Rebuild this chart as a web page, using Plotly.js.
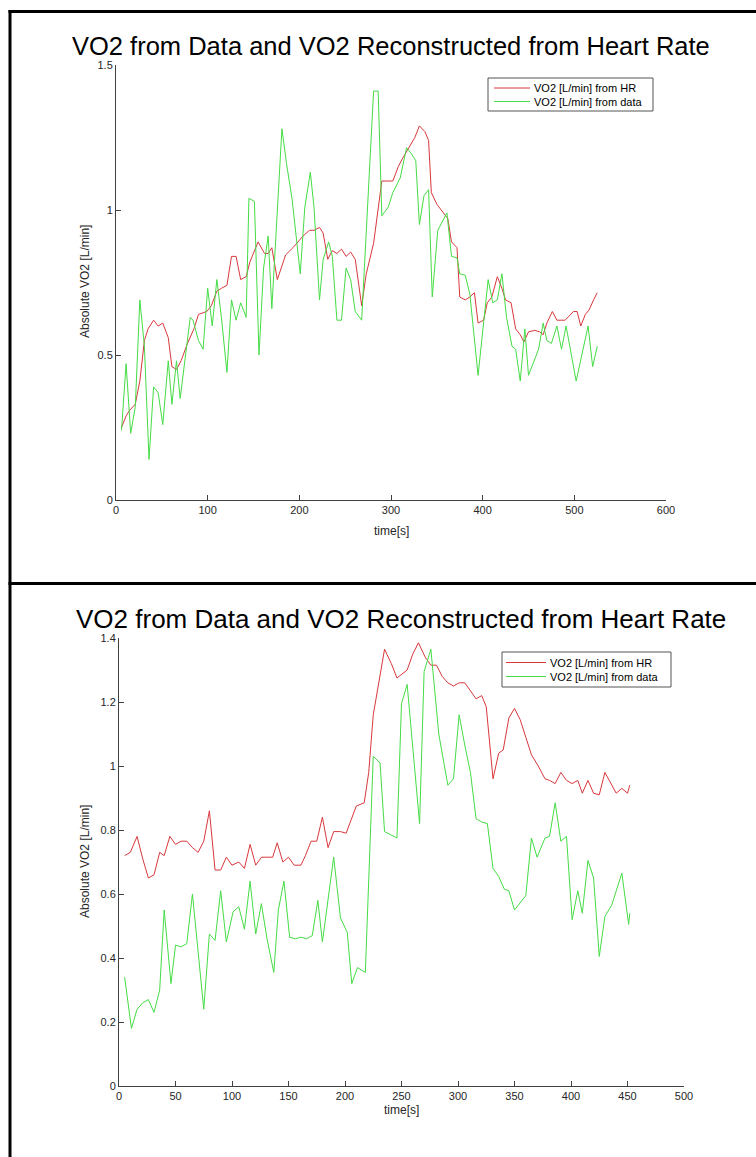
<!DOCTYPE html>
<html>
<head>
<meta charset="utf-8">
<script src="https://cdn.plot.ly/plotly-3.0.1.min.js"></script>
<style>
html,body{margin:0;padding:0;background:#fff;}
#chart{width:756px;height:1157px;}
</style>
</head>
<body>
<div id="chart"></div>
<script>
// ---------- DATA ----------
const chartTitle = "VO2 from Data and VO2 Reconstructed from Heart Rate";
const seriesNameHR = "VO2 [L/min] from HR";
const seriesNameData = "VO2 [L/min] from data";
const yAxisLabel = "Absolute VO2 [L/min]";
const xAxisLabel = "time[s]";

// Top panel
const topTimeHR = [6,11,15,21,26,31,35,41,46,51,57,61,66,71,78,85,90,99,104,110,115,121,126,131,136,142,146,155,162,166,170,176,185,193,204,211,216,222,226,231,236,241,246,251,256,261,268,273,281,290,302,308,313,320,326,331,337,341,344,350,357,362,366,372,375,381,386,391,395,401,405,410,416,421,425,431,436,441,445,450,457,462,466,470,476,481,490,499,503,507,512,516,521,525];
const topVO2HR  = [0.25,0.29,0.31,0.33,0.41,0.55,0.59,0.62,0.60,0.61,0.56,0.46,0.45,0.48,0.54,0.59,0.64,0.65,0.67,0.72,0.73,0.74,0.84,0.84,0.76,0.77,0.82,0.89,0.85,0.85,0.87,0.76,0.845,0.87,0.91,0.93,0.93,0.94,0.92,0.83,0.86,0.85,0.865,0.84,0.855,0.83,0.67,0.78,0.885,1.10,1.10,1.15,1.18,1.22,1.25,1.29,1.27,1.24,1.06,1.02,0.99,0.97,0.89,0.87,0.70,0.69,0.70,0.715,0.61,0.62,0.68,0.70,0.77,0.73,0.69,0.68,0.59,0.57,0.545,0.58,0.585,0.58,0.57,0.61,0.65,0.62,0.62,0.65,0.65,0.60,0.64,0.655,0.69,0.715];
const topTimeData = [6,11,16,21,26,31,36,41,46,51,57,61,66,70,81,84,90,95,100,105,110,115,121,126,131,136,142,145,151,156,161,166,170,181,186,192,201,206,212,216,222,226,232,236,241,246,251,256,261,268,281,286,290,297,302,310,317,322,327,331,336,341,345,351,361,366,372,375,381,386,395,406,411,416,421,426,432,436,441,446,450,461,466,470,475,481,486,491,502,515,520,525];
const topVO2Data  = [0.24,0.47,0.23,0.32,0.69,0.53,0.14,0.39,0.37,0.26,0.48,0.33,0.48,0.35,0.63,0.62,0.55,0.52,0.73,0.60,0.76,0.63,0.44,0.69,0.62,0.68,0.63,1.04,1.03,0.50,0.80,0.91,0.66,1.28,1.16,1.04,0.78,1.01,1.13,1.01,0.69,0.83,0.89,0.84,0.62,0.62,0.80,0.76,0.65,0.62,1.41,1.41,0.98,1.01,1.06,1.11,1.215,1.195,1.17,0.95,1.05,1.07,0.70,0.93,0.99,0.84,0.835,0.78,0.775,0.71,0.43,0.76,0.68,0.69,0.78,0.63,0.53,0.52,0.41,0.59,0.43,0.52,0.61,0.55,0.54,0.60,0.52,0.60,0.41,0.60,0.46,0.53];

// Bottom panel
const botTimeHR = [5,10,16,21,26,31,36,40,45,50,55,60,65,70,75,80,85,90,95,100,106,111,116,121,126,131,136,140,145,150,155,161,165,170,175,180,185,190,196,201,210,217,221,225,230,235,241,246,255,260,265,271,276,281,286,291,296,301,306,311,316,321,325,331,336,340,345,350,355,360,365,371,377,381,386,391,396,401,406,410,415,420,425,430,435,440,445,450,452];
const botVO2HR  = [0.72,0.73,0.78,0.71,0.65,0.66,0.73,0.72,0.78,0.755,0.765,0.765,0.745,0.73,0.765,0.86,0.675,0.675,0.715,0.69,0.70,0.68,0.755,0.69,0.715,0.715,0.715,0.76,0.70,0.715,0.69,0.69,0.72,0.765,0.765,0.84,0.745,0.795,0.795,0.79,0.875,0.885,0.98,1.16,1.26,1.365,1.32,1.275,1.30,1.35,1.385,1.34,1.315,1.315,1.28,1.26,1.25,1.26,1.26,1.235,1.21,1.22,1.185,0.96,1.04,1.05,1.15,1.18,1.145,1.09,1.035,1.0,0.96,0.955,0.945,0.98,0.955,0.945,0.955,0.915,0.955,0.915,0.91,0.98,0.945,0.915,0.93,0.915,0.94];
const botTimeData = [5,11,16,21,26,31,36,40,46,50,55,60,65,70,75,80,85,90,95,101,106,111,116,121,126,131,137,141,146,151,156,161,166,171,176,180,185,190,196,202,206,211,218,225,231,235,246,250,255,260,266,270,276,283,291,296,301,306,311,316,321,326,331,336,341,345,350,360,365,370,377,381,386,391,396,401,406,410,415,420,425,430,436,445,451,452];
const botVO2Data  = [0.34,0.18,0.24,0.26,0.27,0.23,0.30,0.55,0.32,0.44,0.435,0.445,0.60,0.42,0.24,0.475,0.455,0.61,0.45,0.545,0.56,0.49,0.64,0.475,0.57,0.46,0.355,0.55,0.64,0.465,0.46,0.465,0.46,0.47,0.58,0.45,0.59,0.715,0.525,0.48,0.32,0.37,0.355,1.03,1.01,0.795,0.775,1.195,1.255,1.06,0.82,1.295,1.365,1.10,0.94,0.96,1.16,1.065,0.98,0.835,0.825,0.82,0.68,0.655,0.615,0.61,0.55,0.595,0.775,0.715,0.775,0.78,0.885,0.765,0.78,0.52,0.61,0.54,0.705,0.65,0.405,0.53,0.565,0.665,0.505,0.54];

const topXTicks = [0,100,200,300,400,500,600];
const topYTicks = [0,0.5,1,1.5];
const botXTicks = [0,50,100,150,200,250,300,350,400,450,500];
const botYTicks = [0,0.2,0.4,0.6,0.8,1,1.2,1.4];

// ---------- LAYOUT ----------
const W = 756, H = 1157;
const px = x => x / W;
const py = y => 1 - y / H;
const FONT = "Liberation Sans, Arial, Helvetica, sans-serif";
const AX = "#404040";
const RED = "#d8383c";
const GREEN = "#45dc45";

const axisCommon = {
  showline: true, linecolor: AX, linewidth: 1,
  ticks: "inside", ticklen: 5, tickcolor: AX, tickwidth: 1,
  showgrid: false, zeroline: false, mirror: false,
  tickfont: {family: FONT, size: 11, color: "#262626"},
  fixedrange: true
};

const traces = [
  {x: topTimeHR, y: topVO2HR, name: seriesNameHR, type: "scatter", mode: "lines",
   line: {color: RED, width: 1}, xaxis: "x", yaxis: "y"},
  {x: topTimeData, y: topVO2Data, name: seriesNameData, type: "scatter", mode: "lines",
   line: {color: GREEN, width: 1}, xaxis: "x", yaxis: "y"},
  {x: botTimeHR, y: botVO2HR, name: seriesNameHR, type: "scatter", mode: "lines",
   line: {color: RED, width: 1}, xaxis: "x2", yaxis: "y2"},
  {x: botTimeData, y: botVO2Data, name: seriesNameData, type: "scatter", mode: "lines",
   line: {color: GREEN, width: 1}, xaxis: "x2", yaxis: "y2"}
];

// compact MATLAB-style legend boxes (drawn as shapes + text)
function legendBox(x0, y0, x1, y1, lineX0, lineX1, textX, rowY) {
  const shapes = [
    {type: "rect", xref: "paper", yref: "paper", x0: px(x0), x1: px(x1), y0: py(y1), y1: py(y0),
     line: {color: "#555555", width: 1}, fillcolor: "#ffffff", layer: "above"},
    {type: "line", xref: "paper", yref: "paper", x0: px(lineX0), x1: px(lineX1), y0: py(rowY[0]), y1: py(rowY[0]),
     line: {color: RED, width: 1}, layer: "above"},
    {type: "line", xref: "paper", yref: "paper", x0: px(lineX0), x1: px(lineX1), y0: py(rowY[1]), y1: py(rowY[1]),
     line: {color: GREEN, width: 1}, layer: "above"}
  ];
  const anns = [
    {text: seriesNameHR, xref: "paper", yref: "paper", x: px(textX), y: py(rowY[0]), showarrow: false,
     xanchor: "left", yanchor: "middle", font: {family: FONT, size: 11, color: "#000"}},
    {text: seriesNameData, xref: "paper", yref: "paper", x: px(textX), y: py(rowY[1]), showarrow: false,
     xanchor: "left", yanchor: "middle", font: {family: FONT, size: 11, color: "#000"}}
  ];
  return {shapes, anns};
}
const lg1 = legendBox(488, 78, 653, 111, 494, 530, 532, [88, 101.5]);
const lg2 = legendBox(502, 652, 671, 687, 506, 546, 548, [662.5, 676.5]);

const layout = {
  width: W, height: H,
  margin: {l: 0, r: 0, t: 0, b: 0},
  paper_bgcolor: "#fff", plot_bgcolor: "#fff",
  font: {family: FONT},
  showlegend: false,
  xaxis: Object.assign({}, axisCommon, {domain: [px(116), px(666)], range: [0, 600], tickvals: topXTicks, anchor: "y"}),
  yaxis: Object.assign({}, axisCommon, {domain: [py(500), py(65)], range: [0, 1.5], tickvals: topYTicks, anchor: "x"}),
  xaxis2: Object.assign({}, axisCommon, {domain: [px(119), px(684)], range: [0, 500], tickvals: botXTicks, anchor: "y2"}),
  yaxis2: Object.assign({}, axisCommon, {domain: [py(1086), py(638)], range: [0, 1.4], tickvals: botYTicks, anchor: "x2"}),
  annotations: [
    {text: chartTitle, xref: "paper", yref: "paper", x: px(391), y: py(46), showarrow: false,
     xanchor: "center", yanchor: "middle", font: {family: FONT, size: 25.5, color: "#000"}},
    {text: chartTitle, xref: "paper", yref: "paper", x: px(401), y: py(619), showarrow: false,
     xanchor: "center", yanchor: "middle", font: {family: FONT, size: 26, color: "#000"}},
    {text: yAxisLabel, xref: "paper", yref: "paper", x: px(85), y: py(282), showarrow: false, textangle: -90,
     xanchor: "center", yanchor: "middle", font: {family: FONT, size: 12, color: "#262626"}},
    {text: yAxisLabel, xref: "paper", yref: "paper", x: px(85), y: py(862), showarrow: false, textangle: -90,
     xanchor: "center", yanchor: "middle", font: {family: FONT, size: 12, color: "#262626"}},
    {text: xAxisLabel, xref: "paper", yref: "paper", x: px(391), y: py(531), showarrow: false,
     xanchor: "center", yanchor: "middle", font: {family: FONT, size: 12, color: "#262626"}},
    {text: xAxisLabel, xref: "paper", yref: "paper", x: px(401), y: py(1110), showarrow: false,
     xanchor: "center", yanchor: "middle", font: {family: FONT, size: 12, color: "#262626"}}
  ].concat(lg1.anns, lg2.anns),
  shapes: [
    {type: "line", xref: "paper", yref: "paper", x0: px(8.5), x1: px(760), y0: py(11.5), y1: py(11.5), line: {color: "#000", width: 3}},
    {type: "line", xref: "paper", yref: "paper", x0: px(10), x1: px(10), y0: py(10), y1: py(1160), line: {color: "#000", width: 3}},
    {type: "line", xref: "paper", yref: "paper", x0: px(8.5), x1: px(760), y0: py(583.5), y1: py(583.5), line: {color: "#000", width: 3}}
  ].concat(lg1.shapes, lg2.shapes)
};

Plotly.newPlot("chart", traces, layout, {staticPlot: true, displayModeBar: false});
</script>
</body>
</html>
